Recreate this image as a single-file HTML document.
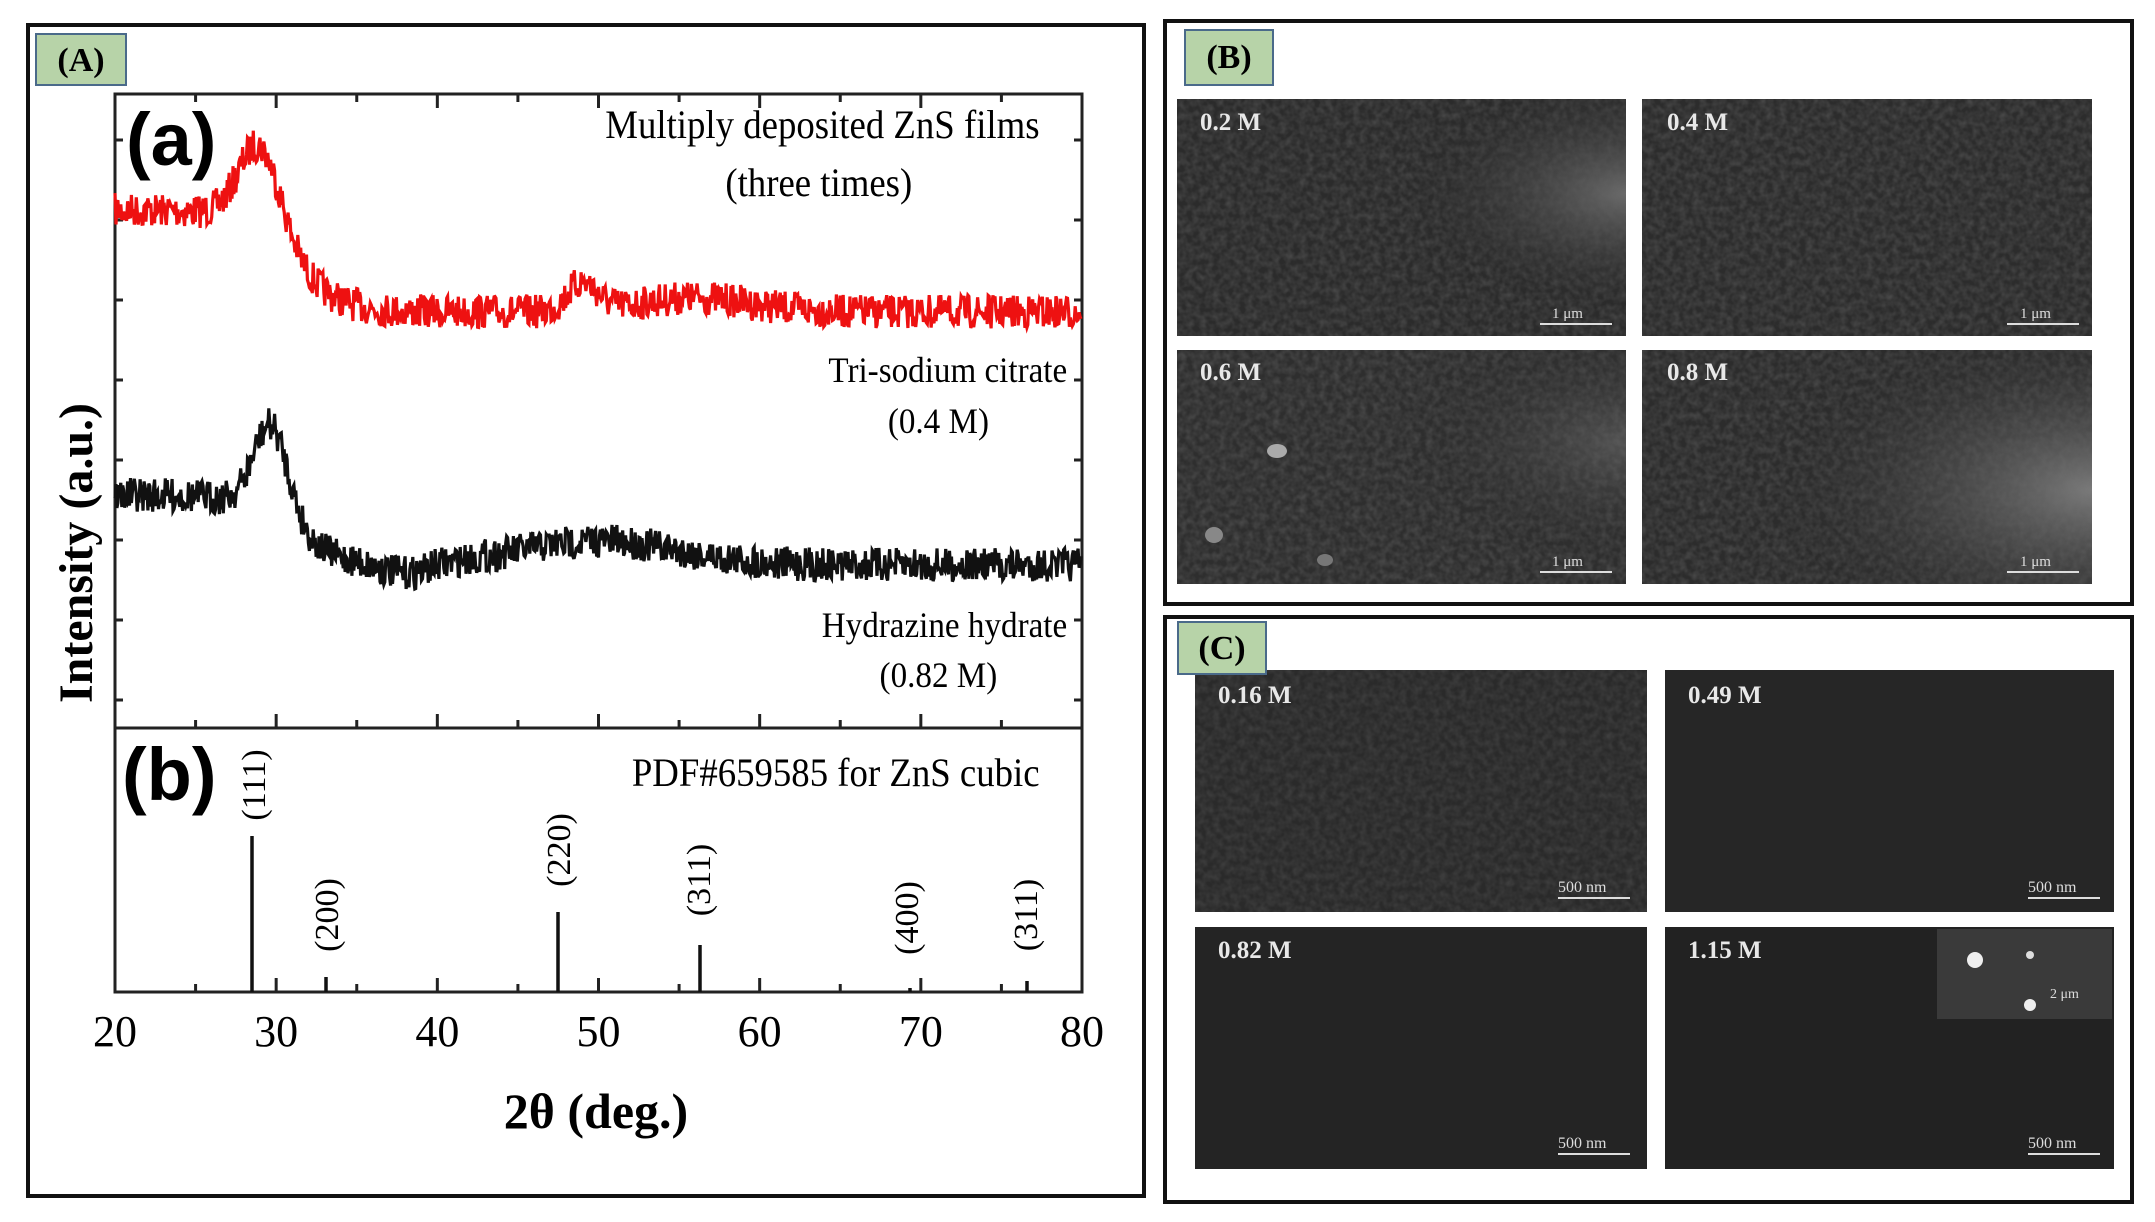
<!DOCTYPE html>
<html><head><meta charset="utf-8"><style>
html,body{margin:0;padding:0;background:#fff;}
svg{display:block;}
text{font-family:"Liberation Serif",serif;}
</style></head><body>
<svg id="s" width="2155" height="1222" viewBox="0 0 2155 1222" xmlns="http://www.w3.org/2000/svg">
<defs>
<radialGradient id="gR" cx="1" cy="0.4" r="0.5"><stop offset="0" stop-color="#6a6a6a"/><stop offset="1" stop-color="#2b2b2b" stop-opacity="0"/></radialGradient>
<radialGradient id="gR2" cx="1" cy="0.6" r="0.7"><stop offset="0" stop-color="#7a7a7a"/><stop offset="1" stop-color="#333" stop-opacity="0"/></radialGradient>
<filter id="grain" x="0" y="0" width="100%" height="100%">
<feTurbulence type="fractalNoise" baseFrequency="0.15" numOctaves="2" seed="3"/>
<feColorMatrix type="matrix" values="0 0 0 0 0.5  0 0 0 0 0.5  0 0 0 0 0.5  0 0 0 0.9 -0.25"/>
</filter>
</defs>
<rect width="2155" height="1222" fill="#fff"/>
<!-- Panel A -->
<rect x="28" y="25" width="1116" height="1171" fill="none" stroke="#111" stroke-width="4"/>
<rect x="36" y="34" width="90" height="51" fill="#b7d3a8" stroke="#4a6a8a" stroke-width="2"/>
<text x="81" y="71" font-size="34" font-weight="bold" text-anchor="middle">(A)</text>
<rect x="115" y="94" width="967" height="898" fill="none" stroke="#222" stroke-width="3"/>
<line x1="115" y1="728" x2="1082" y2="728" stroke="#222" stroke-width="3"/>
<g id="ticks" stroke="#222" stroke-width="3"></g>
<g id="curves"></g>
<text x="126" y="165" font-size="74" font-weight="bold" style="font-family:'Liberation Sans',sans-serif">(a)</text>
<text x="122" y="800" font-size="74" font-weight="bold" style="font-family:'Liberation Sans',sans-serif">(b)</text>
<g transform="scale(0.92,1)">
<text x="1130" y="138" font-size="40" text-anchor="end">Multiply deposited ZnS films</text>
<text x="890" y="196" font-size="40" text-anchor="middle">(three times)</text>
<text x="1160" y="382" font-size="36" text-anchor="end">Tri-sodium citrate</text>
<text x="1020" y="433" font-size="36" text-anchor="middle">(0.4 M)</text>
<text x="1160" y="637" font-size="36" text-anchor="end">Hydrazine hydrate</text>
<text x="1020" y="687" font-size="36" text-anchor="middle">(0.82 M)</text>
<text x="1130" y="786" font-size="40" text-anchor="end">PDF#659585 for ZnS cubic</text>
</g>
<g font-size="34" font-weight="normal">
<text transform="translate(265,785) rotate(-90)" text-anchor="middle">(111)</text>
<text transform="translate(338,915) rotate(-90)" text-anchor="middle">(200)</text>
<text transform="translate(570,850) rotate(-90)" text-anchor="middle">(220)</text>
<text transform="translate(710,880) rotate(-90)" text-anchor="middle">(311)</text>
<text transform="translate(918,918) rotate(-90)" text-anchor="middle">(400)</text>
<text transform="translate(1037,915) rotate(-90)" text-anchor="middle">(311)</text>
</g>
<g stroke="#111" stroke-width="3.5">
<line x1="252" y1="836" x2="252" y2="992"/>
<line x1="326" y1="977" x2="326" y2="992"/>
<line x1="558" y1="912" x2="558" y2="992"/>
<line x1="700" y1="945" x2="700" y2="992"/>
<line x1="910" y1="988" x2="910" y2="992"/>
<line x1="1027" y1="981" x2="1027" y2="992"/>
</g>
<g font-size="44" text-anchor="middle" id="xl"></g>
<text x="596" y="1128" font-size="50" font-weight="bold" text-anchor="middle">2θ (deg.)</text>
<text transform="translate(92,553) rotate(-90)" font-size="48" font-weight="bold" text-anchor="middle">Intensity (a.u.)</text>

<!-- Panel B -->
<rect x="1165" y="21" width="967" height="583" fill="none" stroke="#111" stroke-width="4"/>
<rect x="1177" y="99" width="449" height="237" fill="#2b2b2b"/>
<rect x="1642" y="99" width="450" height="237" fill="#2c2c2c"/>
<rect x="1177" y="350" width="449" height="234" fill="#2e2e2e"/>
<rect x="1642" y="350" width="450" height="234" fill="#2c2c2c"/>
<g opacity="0.35">
<rect x="1177" y="99" width="449" height="237" filter="url(#grain)"/>
<rect x="1642" y="99" width="450" height="237" filter="url(#grain)"/>
<rect x="1177" y="350" width="449" height="234" filter="url(#grain)"/>
<rect x="1642" y="350" width="450" height="234" filter="url(#grain)"/>
</g>
<rect x="1177" y="99" width="449" height="237" fill="url(#gR)"/>
<rect x="1177" y="350" width="449" height="234" fill="url(#gR)" opacity="0.6"/>
<rect x="1642" y="350" width="450" height="234" fill="url(#gR2)"/>
<ellipse cx="1277" cy="451" rx="10" ry="7" fill="#aaa"/>
<ellipse cx="1214" cy="535" rx="9" ry="8" fill="#888"/>
<ellipse cx="1325" cy="560" rx="8" ry="6" fill="#777"/>
<rect x="1185" y="30" width="88" height="55" fill="#b7d3a8" stroke="#4a6a8a" stroke-width="2"/>
<text x="1229" y="68" font-size="34" font-weight="bold" text-anchor="middle">(B)</text>
<g fill="#e8e8e8" font-size="25" font-weight="bold">
<text x="1200" y="130">0.2 M</text><text x="1667" y="130">0.4 M</text>
<text x="1200" y="380">0.6 M</text><text x="1667" y="380">0.8 M</text>
</g>
<g fill="#ddd" font-size="15"><text x="1552" y="318">1 μm</text><text x="2020" y="318">1 μm</text><text x="1552" y="566">1 μm</text><text x="2020" y="566">1 μm</text></g>
<g stroke="#ddd" stroke-width="2"><line x1="1540" y1="324" x2="1612" y2="324"/><line x1="2007" y1="324" x2="2079" y2="324"/><line x1="1540" y1="572" x2="1612" y2="572"/><line x1="2007" y1="572" x2="2079" y2="572"/></g>

<!-- Panel C -->
<rect x="1165" y="617" width="967" height="585" fill="none" stroke="#111" stroke-width="4"/>
<rect x="1195" y="670" width="452" height="242" fill="#2a2a2a"/>
<rect x="1195" y="670" width="452" height="242" filter="url(#grain)" opacity="0.25"/>
<rect x="1665" y="670" width="449" height="242" fill="#262626"/>
<rect x="1195" y="927" width="452" height="242" fill="#242424"/>
<rect x="1665" y="927" width="449" height="242" fill="#222"/>
<rect x="1937" y="929" width="175" height="90" fill="#3a3a3a"/>
<circle cx="1975" cy="960" r="8" fill="#eee"/><circle cx="2030" cy="955" r="4" fill="#ddd"/><circle cx="2030" cy="1005" r="6" fill="#eee"/>
<rect x="1178" y="622" width="88" height="52" fill="#b7d3a8" stroke="#4a6a8a" stroke-width="2"/>
<text x="1222" y="659" font-size="34" font-weight="bold" text-anchor="middle">(C)</text>
<g fill="#e8e8e8" font-size="25" font-weight="bold">
<text x="1218" y="703">0.16 M</text><text x="1688" y="703">0.49 M</text>
<text x="1218" y="958">0.82 M</text><text x="1688" y="958">1.15 M</text>
</g>
<g fill="#ddd" font-size="16"><text x="1558" y="892">500 nm</text><text x="2028" y="892">500 nm</text><text x="1558" y="1148">500 nm</text><text x="2028" y="1148">500 nm</text><text x="2050" y="998" font-size="14">2 μm</text></g>
<g stroke="#ddd" stroke-width="2"><line x1="1558" y1="898" x2="1630" y2="898"/><line x1="2028" y1="898" x2="2100" y2="898"/><line x1="1558" y1="1154" x2="1630" y2="1154"/><line x1="2028" y1="1154" x2="2100" y2="1154"/></g>
</svg>
<script>
var NS="http://www.w3.org/2000/svg";
function X(d){return 115+(d-20)*967/60;}
var t=document.getElementById("ticks"),xl=document.getElementById("xl");
function el(n,a,p){var e=document.createElementNS(NS,n);for(var k in a)e.setAttribute(k,a[k]);p.appendChild(e);return e;}
for(var d=20;d<=80;d+=5){var x=X(d),L=d%10==0?14:8;
 el("line",{x1:x,y1:728,x2:x,y2:728-L},t);el("line",{x1:x,y1:94,x2:x,y2:94+L},t);el("line",{x1:x,y1:992,x2:x,y2:992-L},t);
 if(d%10==0){var tx=el("text",{x:x,y:1046},xl);tx.textContent=d;}}
for(var y=140;y<720;y+=80){el("line",{x1:115,y1:y,x2:123,y2:y},t);el("line",{x1:1082,y1:y,x2:1074,y2:y},t);}
var seed=7;function r(){seed=(seed*16807)%2147483647;return seed/2147483647-0.5;}
function g(x,c,w){return Math.exp(-Math.pow((x-c)/w,2));}
function s(x,c,w){return 1/(1+Math.exp((x-c)/w));}
function red(x){return 312-102*s(x,31,1.5)-85*g(x,29,1.8)-28*g(x,49,1.3)-14*g(x,56,5);}
function blk(x){return 565-70*s(x,31,1.5)-90*g(x,29.7,1.5)-24*g(x,50,7)+10*g(x,38,2);}
var c=document.getElementById("curves");
[[red,"#ee1111"],[blk,"#111"]].forEach(function(p){var pts=[];
 for(var d=20;d<=80;d+=0.06){pts.push(X(d).toFixed(1)+","+(p[0](d)+r()*34).toFixed(1));}
 el("polyline",{points:pts.join(" "),fill:"none",stroke:p[1],"stroke-width":3.2},c);});
</script>
</body></html>
